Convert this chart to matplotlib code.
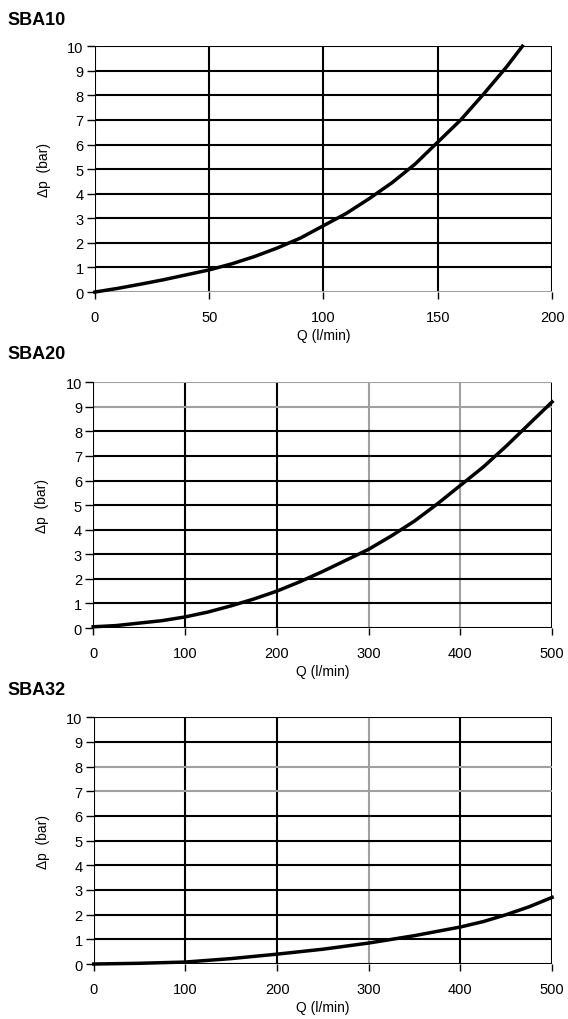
import matplotlib.pyplot as plt

plt.rcParams['font.family'] = ['Liberation Sans', 'DejaVu Sans']

# --- Datos ---
titulos = ["SBA10", "SBA20", "SBA32"]

q_sba10 = [0, 10, 20, 30, 40, 50, 60, 70, 80, 90, 100, 110, 120, 130, 140, 150, 160, 170, 180, 187]
dp_sba10 = [0, 0.15, 0.32, 0.5, 0.7, 0.9, 1.15, 1.45, 1.8, 2.2, 2.7, 3.2, 3.8, 4.45, 5.2, 6.1, 7.0, 8.05, 9.15, 10.0]

q_sba20 = [0, 25, 50, 75, 100, 125, 150, 175, 200, 225, 250, 275, 300,
           325, 350, 375, 400, 425, 450, 475, 500]
dp_sba20 = [0.05, 0.1, 0.2, 0.3, 0.45, 0.65, 0.9, 1.18, 1.5, 1.88, 2.3, 2.75, 3.2,
            3.75, 4.35, 5.05, 5.8, 6.55, 7.4, 8.3, 9.2]

q_sba32 = [0, 50, 100, 150, 200, 250, 300, 350, 400, 425, 450, 475, 500]
dp_sba32 = [0, 0.03, 0.08, 0.22, 0.4, 0.6, 0.85, 1.15, 1.5, 1.72, 2.0, 2.32, 2.7]

xticks = [[0, 50, 100, 150, 200], [0, 100, 200, 300, 400, 500], [0, 100, 200, 300, 400, 500]]
yticks = list(range(0, 11))

# líneas de la rejilla que en el original salen grises
gris_x = [[], [300, 400], [300]]
gris_y = [[0], [9, 10], [7, 8]]

series = [(q_sba10, dp_sba10), (q_sba20, dp_sba20), (q_sba32, dp_sba32)]

# posiciones de los ejes (fracciones de la figura)
posiciones = [
    [0.167, 0.7127, 0.805, 0.241],
    [0.164, 0.3833, 0.808, 0.241],
    [0.165, 0.0539, 0.807, 0.242],
]
y_titulos = [0.980, 0.652, 0.323]

fig = plt.figure(figsize=(5.68, 10.2), dpi=100)

for i, ((q, dp), pos) in enumerate(zip(series, posiciones)):
    ax = fig.add_axes(pos)
    xmax = xticks[i][-1]
    ax.set_xlim(0, xmax)
    ax.set_ylim(0, 10)

    for xv in xticks[i][1:]:
        c = "#a0a0a0" if xv in gris_x[i] else "black"
        ax.axvline(xv, color=c, lw=1.5, zorder=1)
    for yv in yticks:
        c = "#a0a0a0" if yv in gris_y[i] else "black"
        ax.axhline(yv, color=c, lw=1.5, zorder=1)

    ax.plot(q, dp, color="black", lw=2.5, zorder=3, clip_on=False,
            solid_joinstyle="round")

    for s in ax.spines.values():
        s.set_visible(False)
    ax.axvline(0, color="black", lw=1.5, zorder=2)

    ax.set_xticks(xticks[i])
    ax.set_yticks(yticks)
    ax.tick_params(axis="y", direction="out", length=6, width=1, labelsize=10.5, pad=2)
    ax.tick_params(axis="x", direction="out", length=5, width=1, labelsize=10.5, pad=8)
    ax.set_xlabel("Q (l/min)", fontsize=10, labelpad=3)
    ax.set_ylabel("Δp  (bar)", fontsize=10, labelpad=12)

    fig.text(0.014, y_titulos[i], titulos[i], fontsize=13, fontweight="bold",
             va="center", ha="left")

fig.savefig("out.png", dpi=100)
